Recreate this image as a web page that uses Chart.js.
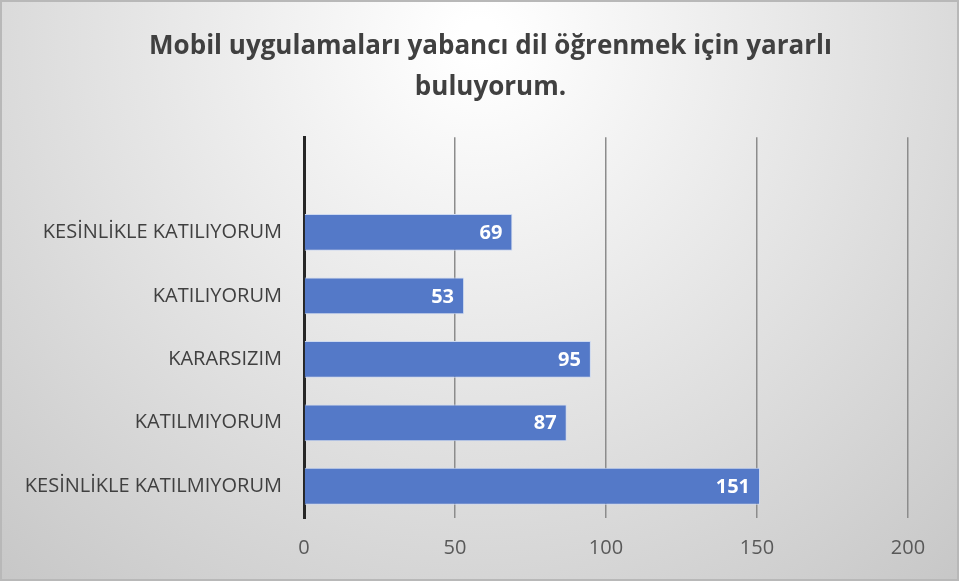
<!DOCTYPE html>
<html>
<head>
<meta charset="utf-8">
<script src="https://cdn.jsdelivr.net/npm/chart.js@4"></script>
<style>
  html, body { margin: 0; padding: 0; background: #fff; }
  #wrap { width: 959px; height: 581px; }
</style>
</head>
<body>
<div id="wrap"><canvas id="chart" width="959" height="581"></canvas></div>
<script>
// empty first row: Excel leaves a blank slot above the first bar
const categories = ['', 'KESİNLİKLE KATILIYORUM', 'KATILIYORUM', 'KARARSIZIM', 'KATILMIYORUM', 'KESİNLİKLE KATILMIYORUM'];
const counts = [null, 69, 53, 95, 87, 151];
const xTicks = [0, 50, 100, 150, 200];

const FONT = '"Open Sans", Lato, sans-serif';

const backgroundPlugin = {
    id: 'bg',
    beforeDraw(chart) {
        const { ctx, width, height } = chart;
        ctx.save();
        const g = ctx.createRadialGradient(width / 2, 40, 20, width / 2, 40, 760);
        g.addColorStop(0, '#ffffff');
        g.addColorStop(1, '#c4c4c4');
        ctx.fillStyle = g;
        ctx.fillRect(0, 0, width, height);
        ctx.strokeStyle = '#b8b8b8';
        ctx.lineWidth = 2;
        ctx.strokeRect(1, 1, width - 2, height - 2);
        ctx.restore();
    }
};

// Excel centres the title on the whole chart, not on the padded area
const centerTitle = {
    id: 'centerTitle',
    afterLayout(chart) {
        const t = chart.titleBlock;
        if (!t) return;
        const shift = chart.width / 2 + 11 - (t.left + t.right) / 2;
        t.left += shift;
        t.right += shift;
    }
};

const valueLabels = {
    id: 'valueLabels',
    afterDatasetsDraw(chart) {
        const { ctx } = chart;
        const meta = chart.getDatasetMeta(0);
        ctx.save();
        ctx.font = 'bold 20px ' + FONT;
        ctx.fillStyle = '#ffffff';
        ctx.textAlign = 'right';
        ctx.textBaseline = 'middle';
        meta.data.forEach((bar, i) => {
            if (counts[i] == null) return;
            ctx.fillText(String(counts[i]), bar.x - 10, bar.y + 1);
        });
        ctx.restore();
    }
};

new Chart(document.getElementById('chart'), {
    type: 'bar',
    data: {
        labels: categories,
        datasets: [{
            data: counts,
            backgroundColor: '#5479C8',
            borderColor: '#cdd9f0',
            borderWidth: 1,
            borderSkipped: 'left',
            categoryPercentage: 1,
            barPercentage: 0.58
        }]
    },
    options: {
        indexAxis: 'y',
        responsive: false,
        animation: false,
        layout: { padding: { left: 0, right: 51, top: 0, bottom: 0 } },
        plugins: {
            legend: { display: false },
            tooltip: { enabled: false },
            title: {
                display: true,
                text: ['Mobil uygulamaları yabancı dil öğrenmek için yararlı', 'buluyorum.'],
                color: '#404040',
                font: { family: FONT, size: 26, weight: 'bold', lineHeight: 1.58 },
                padding: { top: 26, bottom: 29 }
            }
        },
        scales: {
            x: {
                min: 0,
                max: 200,
                afterBuildTicks(scale) {
                    scale.ticks = xTicks.map(v => ({ value: v }));
                },
                afterFit(scale) { scale.height = 63; },
                grid: { color: '#8c8c8c', lineWidth: 1.5, drawTicks: false },
                border: { display: false },
                ticks: { color: '#595959', font: { family: FONT, size: 20 }, padding: 18 }
            },
            y: {
                afterFit(scale) { scale.width = 304; },
                grid: { display: false, drawTicks: false },
                border: { display: true, color: '#262626', width: 3 },
                ticks: { color: '#404040', font: { family: FONT, size: 20 }, padding: 22 }
            }
        }
    },
    plugins: [backgroundPlugin, centerTitle, valueLabels]
});
</script>
</body>
</html>
